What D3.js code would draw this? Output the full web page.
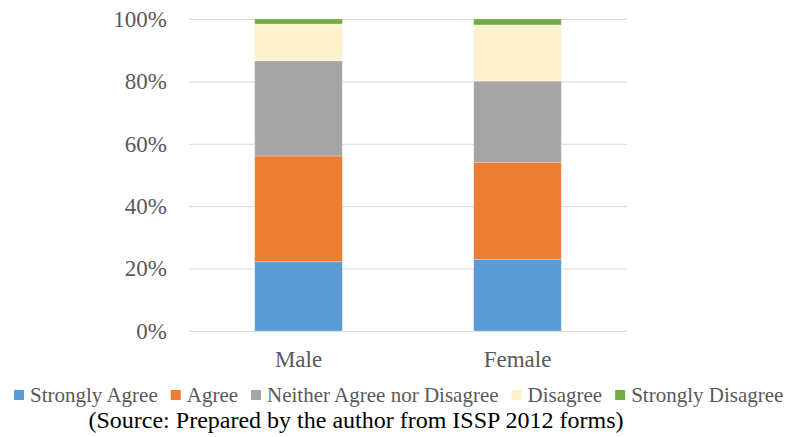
<!DOCTYPE html>
<html>
<head>
<meta charset="utf-8">
<script src="https://cdn.jsdelivr.net/npm/d3@7"></script>
<style>
  html, body { margin: 0; padding: 0; background: #fff; }
  svg { display: block; }
</style>
</head>
<body>
<svg id="chart" width="788" height="437"></svg>
<script>
// Response categories, bottom of the stack first
const categories = ["Male", "Female"];
const responses = ["Strongly Agree", "Agree", "Neither Agree nor Disagree", "Disagree", "Strongly Disagree"];
// Share of each response (%) per group
const stronglyAgree    = [22.2, 23.0];
const agree            = [33.9, 31.1];
const neither          = [30.5, 26.0];
const disagree         = [11.8, 18.0];
const stronglyDisagree = [1.6, 1.9];
const yTicks = [0, 20, 40, 60, 80, 100];
const colors = ["#5b9bd5", "#ed7d31", "#a5a5a5", "#fff2cc", "#70ad47"];
const sourceNote = "(Source: Prepared by the author from ISSP 2012 forms)";

const seriesValues = [stronglyAgree, agree, neither, disagree, stronglyDisagree];
const rows = categories.map((c, i) => {
  const r = { group: c };
  responses.forEach((s, k) => { r[s] = seriesValues[k][i]; });
  return r;
});
const stacked = d3.stack().keys(responses)(rows);

const svg = d3.select("#chart");
const margin = { left: 189, right: 161, top: 19, bottom: 106 };
const W = 788, H = 437;

const x = d3.scaleBand().domain(categories)
  .range([margin.left, W - margin.right]).paddingInner(0.6).paddingOuter(0.3);
const y = d3.scaleLinear().domain([0, 100]).range([H - margin.bottom, margin.top]);

const font = "'Liberation Serif', 'Times New Roman', serif";

// Horizontal gridlines
svg.append("g").selectAll("line").data(yTicks).join("line")
  .attr("x1", margin.left).attr("x2", W - margin.right)
  .attr("y1", d => y(d) + 0.5).attr("y2", d => y(d) + 0.5)
  .attr("stroke", "#d9d9d9").attr("stroke-width", 1);

// Y axis labels
const yAxis = d3.axisLeft(y).tickValues(yTicks).tickFormat(d => d + "%").tickSize(0).tickPadding(22);
const gy = svg.append("g").attr("transform", `translate(${margin.left},0)`).call(yAxis);
gy.select(".domain").remove();
gy.selectAll("text").attr("font-family", font).attr("font-size", 23).attr("fill", "#595959");

// Stacked bars
svg.append("g").selectAll("g").data(stacked).join("g")
  .attr("fill", (d, i) => colors[i])
  .selectAll("rect").data(d => d).join("rect")
  .attr("x", d => x(d.data.group))
  .attr("width", x.bandwidth())
  .attr("y", d => y(d[1]))
  .attr("height", d => y(d[0]) - y(d[1]))
  .attr("stroke", "#ffffff").attr("stroke-opacity", 0.35).attr("stroke-width", 0.75);

// X axis labels
const xAxis = d3.axisBottom(x).tickSize(0).tickPadding(20);
const gx = svg.append("g").attr("transform", `translate(0,${y(0)})`).call(xAxis);
gx.select(".domain").remove();
gx.selectAll("text").attr("font-family", font).attr("font-size", 23).attr("fill", "#595959");

// Legend
const legend = svg.append("g").attr("font-family", font).attr("font-size", 21);
let lx = 14;
const ly = 402;
responses.forEach((s, i) => {
  legend.append("rect").attr("x", lx).attr("y", ly - 12).attr("width", 10).attr("height", 10).attr("fill", colors[i]);
  const t = legend.append("text").attr("x", lx + 16).attr("y", ly).attr("fill", "#595959").text(s);
  lx += 16 + t.node().getComputedTextLength() + 13;
});

// Source note
svg.append("text").attr("x", 356).attr("y", 428).attr("text-anchor", "middle")
  .attr("font-family", font).attr("font-size", 24).attr("fill", "#000").text(sourceNote);
</script>
</body>
</html>
